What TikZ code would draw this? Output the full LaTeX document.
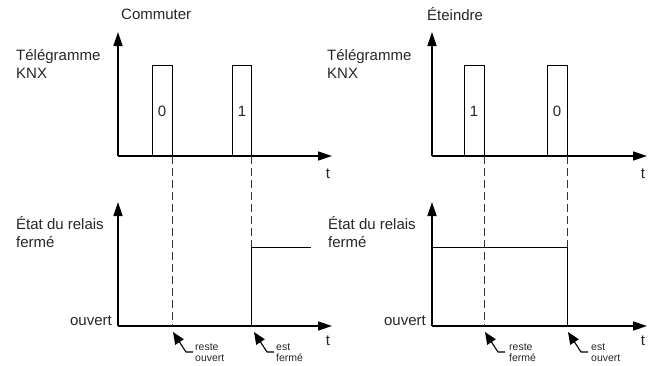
\documentclass[tikz,border=0pt]{standalone}
\usepackage{fontspec}
\setmainfont{Liberation Sans}
\usetikzlibrary{arrows.meta}
\begin{document}
\begin{tikzpicture}[x=1pt,y=-1pt,
  axis/.style={line width=1.5pt,-{Triangle[length=14pt,width=9pt]}},
  sigline/.style={line width=0.9pt},
  guide/.style={line width=0.9pt,dash pattern=on 8pt off 4pt,black!80},
  pointer/.style={line width=1.1pt,{Triangle[length=12pt,width=10pt]}-},
  lbl/.style={font=\fontsize{15}{18}\selectfont,align=left,inner sep=0pt,text=black!85},
  small/.style={font=\fontsize{10.5}{11}\selectfont,align=left,inner sep=0pt,anchor=north west,text=black!85}]
\useasboundingbox (0,0) rectangle (653,365);

% ---------- left panel ----------
\node[lbl,anchor=west] (title1) at (121,14) {Commuter};
\coordinate (o1) at (118,156);
\coordinate (y1) at (118,32);
\coordinate (x1) at (332,156);
\draw[axis] (o1) -- (y1);
\draw[axis] (o1) -- (x1);
\node[lbl,anchor=north west] (tel1) at (16,49) {Télégramme\\KNX};
\node[lbl] (t1) at (328,174) {t};
\draw[sigline] (152,156) -- (152,65) -- (172,65) -- (172,156);
\draw[sigline] (232,156) -- (232,65) -- (251,65) -- (251,156);
\node[lbl] (d1) at (162,111) {0};
\node[lbl] (d2) at (242,111) {1};

\coordinate (o2) at (118,326);
\coordinate (y2) at (118,202);
\coordinate (x2) at (332,326);
\draw[axis] (o2) -- (y2);
\draw[axis] (o2) -- (x2);
\node[lbl,anchor=north west] (etat1) at (16,216) {État du relais\\fermé};
\node[lbl,anchor=base east] (ouv1) at (112,325) {ouvert};
\node[lbl] (t2) at (328,341) {t};
\draw[sigline] (251,326) -- (251,247) -- (311,247);
\draw[guide] (172,156) -- (172,326);
\draw[guide] (251,156) -- (251,247);

\node[small] (r1) at (195,344) {reste\\ouvert};
\coordinate (p1) at (173,332);
\draw[pointer] (p1) -- ++(13,20) -- ++(7,0);
\node[small] (r2) at (276,344) {est\\fermé};
\coordinate (p2) at (254,332);
\draw[pointer] (p2) -- ++(13,20) -- ++(7,0);

% ---------- right panel ----------
\node[lbl,anchor=west] (title2) at (427,14) {Éteindre};
\coordinate (o3) at (432,156);
\coordinate (y3) at (432,32);
\coordinate (x3) at (647,156);
\draw[axis] (o3) -- (y3);
\draw[axis] (o3) -- (x3);
\node[lbl,anchor=north west] (tel2) at (327,49) {Télégramme\\KNX};
\node[lbl] (t3) at (643,174) {t};
\draw[sigline] (464,156) -- (464,65) -- (484,65) -- (484,156);
\draw[sigline] (547,156) -- (547,65) -- (567,65) -- (567,156);
\node[lbl] (d3) at (474,111) {1};
\node[lbl] (d4) at (557,111) {0};

\coordinate (o4) at (432,326);
\coordinate (y4) at (432,202);
\coordinate (x4) at (647,326);
\draw[axis] (o4) -- (y4);
\draw[axis] (o4) -- (x4);
\node[lbl,anchor=north west] (etat2) at (328,216) {État du relais\\fermé};
\node[lbl,anchor=base east] (ouv2) at (426,325) {ouvert};
\node[lbl] (t4) at (643,341) {t};
\draw[sigline] (432,247) -- (567,247) -- (567,326);
\draw[guide] (484,156) -- (484,326);
\draw[guide] (567,156) -- (567,247);

\node[small] (r3) at (509,344) {reste\\fermé};
\coordinate (p3) at (485,332);
\draw[pointer] (p3) -- ++(13,20) -- ++(7,0);
\node[small] (r4) at (591,344) {est\\ouvert};
\coordinate (p4) at (568,332);
\draw[pointer] (p4) -- ++(13,20) -- ++(7,0);
\end{tikzpicture}
\end{document}
